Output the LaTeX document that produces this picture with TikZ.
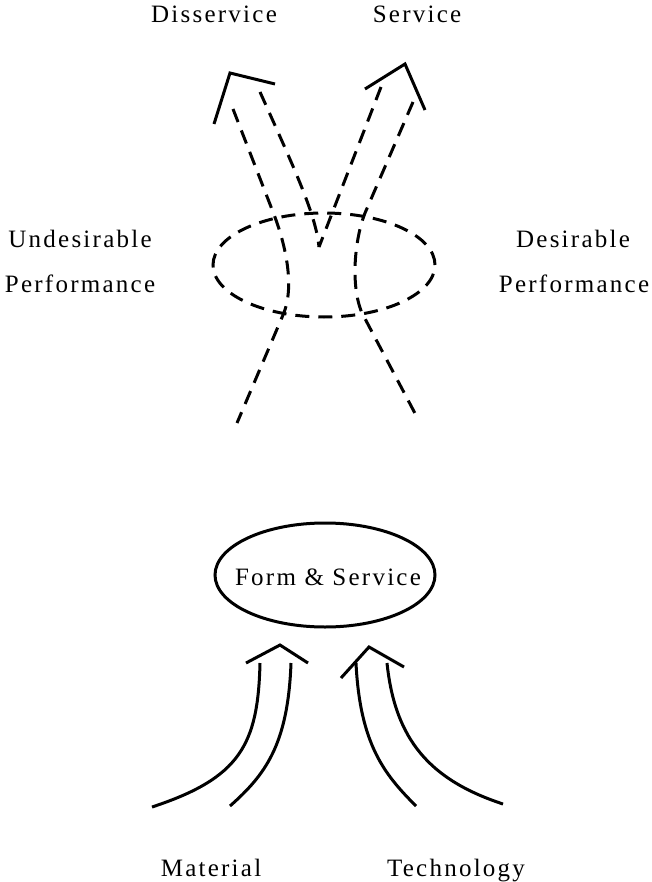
\documentclass[tikz,border=0pt]{standalone}
\usepackage{fontspec}
\setmainfont{Liberation Serif}[LetterSpace=9]
\usetikzlibrary{shapes.geometric}

\begin{document}
\begin{tikzpicture}[x=1pt,y=-1pt,line width=3pt,
  lbl/.style={font=\fontsize{25}{30}\selectfont,inner sep=0pt,anchor=base},
  strand/.style={dash pattern=on 14pt off 9pt},
  chevron/.style={line join=miter,miter limit=20},
  flow/.style={line cap=butt}]
\useasboundingbox (0,0) rectangle (651,882);

% labels
\node[lbl] (dis) at (214,23) {Disservice};
\node[lbl] (ser) at (417,23) {Service};
\node[lbl] (und1) at (80,248) {Undesirable};
\node[lbl] (und2) at (80,292) {Performance};
\node[lbl] (des1) at (573,248) {Desirable};
\node[lbl] (des2) at (574,292) {Performance};
\node[lbl] (mat) at (211,876) {Material};
\node[lbl] (tec) at (456,876) {Technology};

% performance region and the form node
\node[draw,ellipse,strand,inner sep=0pt,minimum width=222pt,minimum height=104pt] (perf) at (324,265) {};
\node[draw,ellipse,inner sep=0pt,minimum width=220pt,minimum height=104pt] (form) at (325,575) {};
\node[lbl] (formtxt) at (328,585) {Form \& Service};

% end points of the dashed strands
\coordinate (dL) at (233,109);
\coordinate (dR) at (260,92);
\coordinate (sL) at (381,87);
\coordinate (sR) at (413,102);
\coordinate (v)  at (319,247);
\coordinate (bL) at (237,423);
\coordinate (bR) at (418,419);

% chevron tips
\coordinate (dA) at (230,73);  \coordinate (dA1) at (214,124); \coordinate (dA2) at (275,84);
\coordinate (sA) at (405,64);  \coordinate (sA1) at (365,89);  \coordinate (sA2) at (425,110);
\coordinate (mA) at (280,645); \coordinate (mA1) at (246,663); \coordinate (mA2) at (308,663);
\coordinate (tA) at (369,647); \coordinate (tA1) at (341,678); \coordinate (tA2) at (404,667);

% bottom curve ends
\coordinate (m1) at (152,807); \coordinate (m1t) at (260,663);
\coordinate (m2) at (230,806); \coordinate (m2t) at (291,663);
\coordinate (t1) at (416,806); \coordinate (t1t) at (356,663);
\coordinate (t2) at (503,804); \coordinate (t2t) at (387,663);

% dashed strands through the performance region
\draw[strand] (dL) -- (273,212) .. controls (284,240) and (296,285) .. (283,315) -- (bL);
\draw[strand] (sR) -- (365,213) .. controls (355,238) and (350,285) .. (362,313) -- (bR);
\draw[strand] (dR) .. controls (295,170) and (316,215) .. (v);
\draw[strand] (sL) -- (v);

% arrow heads
\draw[chevron] (dA1) -- (dA) -- (dA2);
\draw[chevron] (sA1) -- (sA) -- (sA2);
\draw[chevron] (mA1) -- (mA) -- (mA2);
\draw[chevron] (tA1) -- (tA) -- (tA2);

% material and technology flows
\draw[flow] (m1) .. controls (240,778) and (258,745) .. (m1t);
\draw[flow] (m2) .. controls (265,775) and (288,745) .. (m2t);
\draw[flow] (t1) .. controls (385,775) and (360,745) .. (t1t);
\draw[flow] (t2) .. controls (430,780) and (395,740) .. (t2t);
\end{tikzpicture}
\end{document}
